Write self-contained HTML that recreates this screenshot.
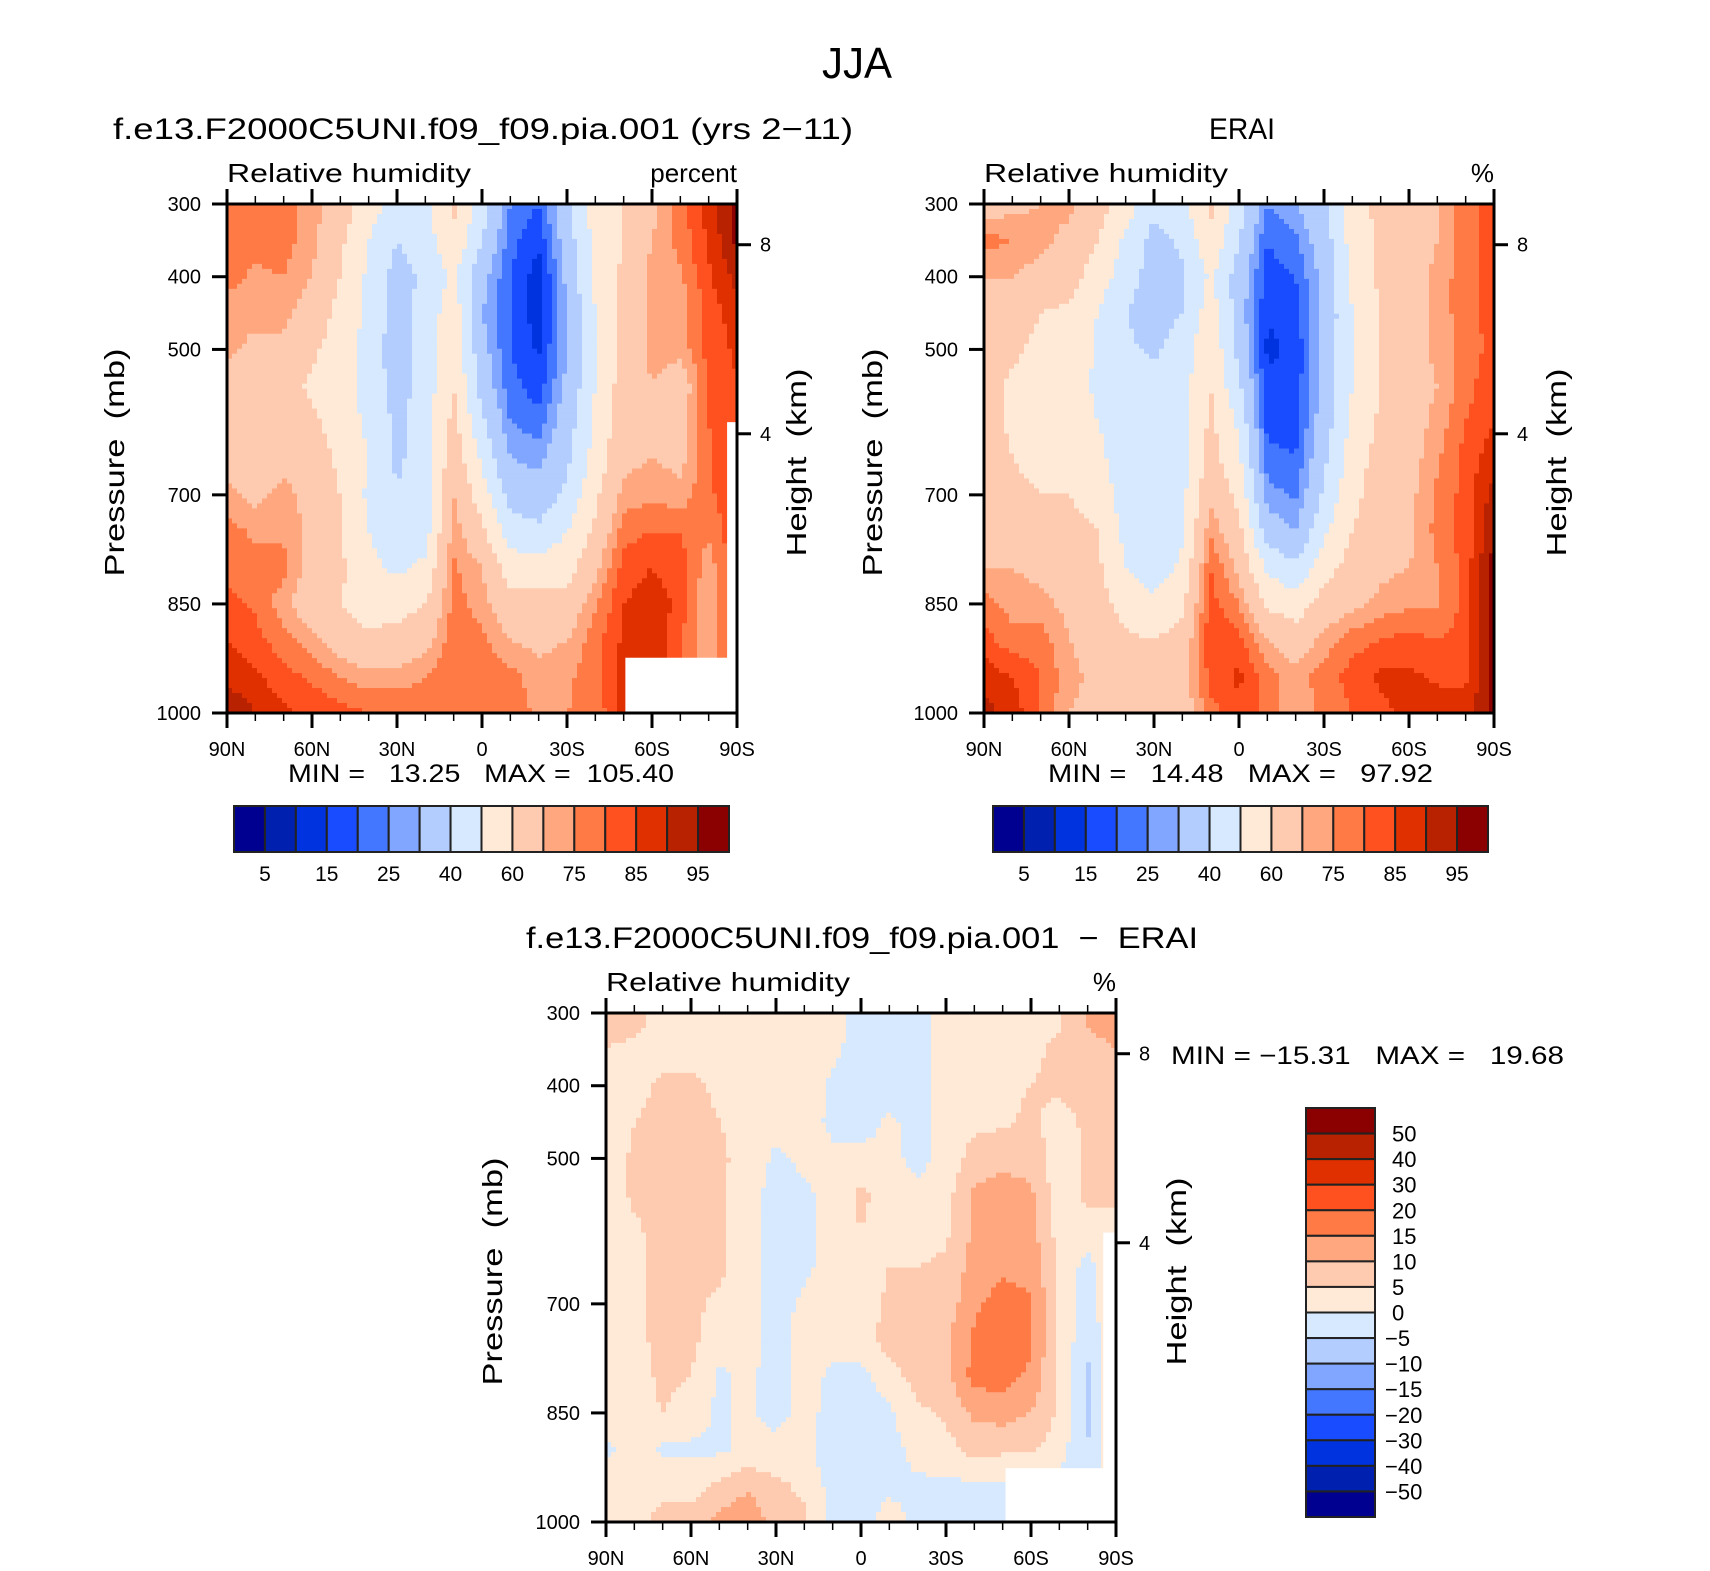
<!DOCTYPE html>
<html><head><meta charset="utf-8">
<style>
html,body{margin:0;padding:0;background:#fff;}
svg{display:block;font-family:"Liberation Sans",sans-serif;}
text{fill:#000;white-space:pre;}
</style></head>
<body>
<svg id="fig" width="1710" height="1571" viewBox="0 0 1710 1571" xmlns="http://www.w3.org/2000/svg">
<rect width="1710" height="1571" fill="#fff"/>
<text x="857" y="78" font-size="44" text-anchor="middle" textLength="70" lengthAdjust="spacingAndGlyphs">JJA</text>
<text x="113" y="139" font-size="30" textLength="740" lengthAdjust="spacingAndGlyphs">f.e13.F2000C5UNI.f09_f09.pia.001 (yrs 2−11)</text>
<text x="1242" y="139" font-size="30" text-anchor="middle" textLength="66" lengthAdjust="spacingAndGlyphs">ERAI</text>
<text x="862" y="948" font-size="30" text-anchor="middle" textLength="672" lengthAdjust="spacingAndGlyphs">f.e13.F2000C5UNI.f09_f09.pia.001  −  ERAI</text>
<g id="panels"></g>
</svg>
<script>
// ---------- data ----------
const latLabels = ["90N","60N","30N","0","30S","60S","90S"];
const pressures = [300,350,400,450,500,550,600,650,700,750,800,850,900,950,1000];
const pTicks = [300,400,500,700,850,1000];
const hTickLabels = ["8","4"];
const hTickPressures = [356,616];
const absLevels = [5,10,15,20,25,30,40,50,60,70,75,80,85,90,95];
const absLabels = ["5","15","25","40","60","75","85","95"];
const diffLevels = [-50,-40,-30,-20,-15,-10,-5,0,5,10,15,20,30,40,50];
const diffLabels = ["50","40","30","20","15","10","5","0","−5","−10","−15","−20","−30","−40","−50"];
const palette = ["#000090","#0020b0","#0033e0","#1a4cff","#4477ff","#80a6ff","#b3cdff","#d6e9ff","#ffead8","#ffcbb0","#ffa880","#ff7a45","#ff5020","#e03000","#b82200","#8b0000"];
// model RH, one array per latitude (90N -> 90S every 10 deg), values at pressures 300..1000
const rhModel = [
[77,77,77,72,72,65,65,65,72,77,77,82,85,88,95],
[77,77,74,72,68,65,65,65,68,74,77,79,82,86,90],
[77,77,75,72,68,65,65,68,72,74,77,72,77,82,86],
[73,72,70,66,62,58,62,65,67,68,66,64,72,79,84],
[65,62,60,57,55,53,55,58,60,60,62,60,65,75,82],
[55,50,48,47,47,47,48,50,48,50,52,55,62,72,80],
[45,40,36,35,34,35,38,38,41,45,48,56,64,72,80],
[48,45,42,44,45,45,45,45,45,46,52,60,67,75,80],
[62,58,52,56,58,60,63,66,70,73,76,77,78,80,78],
[45,40,33,30,33,36,42,48,55,62,70,73,76,80,78],
[25,22,20,20,20,22,25,30,36,45,55,63,70,77,78],
[20,16,12,12,14,17,22,28,34,42,55,63,68,72,74],
[38,35,32,30,30,32,35,38,42,50,56,64,70,74,75],
[55,53,52,50,50,50,52,54,58,62,68,74,78,78,76],
[60,60,62,62,63,65,66,68,72,78,82,85,86,88,88],
[68,70,72,72,72,70,68,70,74,80,85,88,90,90,90],
[77,77,74,72,72,65,66,68,72,80,82,84,80,80,80],
[87,86,84,82,82,80,80,79,79,76,72,70,70,70,70],
[98,96,92,88,86,85,85,84,84,84,84,84,84,84,84]
];
const rhERAI = [
[65,77,70,65,65,65,65,65,65,65,70,77,82,88,92],
[68,75,70,65,62,58,58,60,63,65,70,73,77,85,88],
[70,72,67,60,57,55,55,56,60,64,68,72,78,80,80],
[72,68,64,58,55,53,53,55,60,64,66,68,70,72,70],
[65,60,55,50,49,49,50,52,55,60,62,64,67,68,68],
[55,48,45,40,42,45,46,46,46,47,50,56,62,65,65],
[42,37,35,35,38,45,45,45,45,45,45,52,60,65,64],
[48,42,38,40,45,46,46,47,47,48,52,58,64,66,65],
[62,58,52,55,58,60,62,64,68,74,80,82,84,82,78],
[45,40,35,35,37,42,48,52,57,63,68,75,82,86,84],
[25,20,18,15,14,16,18,22,27,35,48,58,70,77,78],
[30,24,20,18,16,17,18,20,24,30,42,55,65,72,72],
[38,35,33,32,33,33,35,38,42,48,56,64,72,78,76],
[57,54,52,50,50,50,52,55,57,60,64,68,78,82,80],
[62,62,62,60,60,60,62,64,66,66,68,72,80,86,84],
[64,64,65,65,65,66,66,67,68,68,70,74,82,86,86],
[70,70,72,72,72,70,72,74,76,77,75,74,80,84,88],
[78,78,78,78,77,78,80,82,82,82,82,82,82,84,88],
[82,82,82,82,82,84,85,88,92,95,97,97,97,97,97]
];
const rhDiff = [
[7,5,2,2,2,2,3,3,2,2,2,2,-1,2,2],
[7,4,3,5,6,6,4,3,3,3,3,3,2,3,4],
[3,3,6,7,7,7,7,7,7,7,6,5,-1,4,6],
[2,3,6,7,7,7,7,7,6,6,5,3,-1,3,7],
[2,3,4,5,6,6,6,6,4,3,-1,-1,-1,6,12],
[2,2,2,3,3,2,2,2,2,2,1,1,1,9,14],
[2,2,2,2,-1,-2,-2,-2,-2,-2,-2,-2,2,6,8],
[2,2,3,2,1,-1,-2,-1,1,2,2,2,2,4,6],
[2,1,-1,-1,1,2,2,2,2,2,-1,-2,-4,-2,-2],
[-2,-2,-4,-3,2,6,5,3,2,3,-2,-2,-2,-2,-2],
[-2,-2,-3,1,2,3,3,5,6,7,3,-1,-2,-1,2],
[-2,-2,-2,-2,-2,2,3,5,6,7,7,4,2,-1,-1],
[2,2,2,2,2,3,4,6,7,9,8,6,3,-1,-1],
[2,2,3,4,7,11,11,12,14,16,17,11,7,-1,-1],
[3,3,4,4,9,12,13,14,17,18,17,12,6,-1,-1],
[3,4,5,6,8,11,12,13,16,16,14,10,6,-1,-1],
[4,6,6,3,2,2,3,4,4,4,3,4,2,-1,-1],
[11,8,7,6,6,6,3,-2,-2,-4,-6,-6,-5,-5,-5],
[14,10,8,6,5,5,5,5,5,5,5,5,5,5,5]
];
const statsModel = ["13.25","105.40"];
const statsERAI = ["14.48","97.92"];
const statsDiff = ["−15.31","19.68"];

// ---------- drawing ----------
const NS="http://www.w3.org/2000/svg";
const root=document.getElementById('panels');
function el(tag,attrs,parent){const e=document.createElementNS(NS,tag);for(const k in attrs)e.setAttribute(k,attrs[k]);(parent||root).appendChild(e);return e;}
function txt(s,attrs,parent){const e=el('text',attrs,parent);e.textContent=s;return e;}
function binOf(v,levels){let b=0;for(const l of levels){if(v>=l)b++;}return b;}

function drawPanel(P){
  const g=el('g',{});
  
  
  const x0=P.x,y0=P.y,w=P.w,h=P.h;
  const nLat=P.data.length-1;
  const xS=d=>x0+w*d/180;
  const yS=p=>y0+h*(p-300)/700;
  const field=el('g',{},g);
  
  
  const nx=102,ny=102,cw=w/nx,ch=h/ny;
  for(let i=0;i<nx;i++){
    const u=(i+0.5)/nx*nLat;const i0=Math.min(Math.floor(u),nLat-1);const fu=u-i0;
    for(let j=0;j<ny;j++){
      const p=300+700*(j+0.5)/ny;
      let k0=0;while(k0<pressures.length-2&&pressures[k0+1]<=p)k0++;
      const fv=(p-pressures[k0])/(pressures[k0+1]-pressures[k0]);
      const d=P.data;
      const v=(1-fu)*((1-fv)*d[i0][k0]+fv*d[i0][k0+1])+fu*((1-fv)*d[i0+1][k0]+fv*d[i0+1][k0+1]);
      const r=el('rect',{x:(x0+i*cw).toFixed(2),y:(y0+j*ch).toFixed(2),width:(cw+0.6).toFixed(2),height:(ch+0.6).toFixed(2),fill:palette[binOf(v,P.levels)]},field);
      
      
    }
  }
  for(const m of P.masks){
    const r=el('rect',{x:xS(m[0]),y:yS(m[2]),width:xS(m[1])-xS(m[0])+1,height:yS(m[3])-yS(m[2])+1,fill:'#fff'},g);
    
    
  }
  const fr=el('rect',{x:x0,y:y0,width:w,height:h,fill:'none',stroke:'#000','stroke-width':3},g);
  
  
  for(let d=0;d<=180;d+=10){
    const major=d%30===0;const x=xS(d);
    el('line',{x1:x,x2:x,y1:y0,y2:y0-(major?15:8),stroke:'#000','stroke-width':major?3:1.5},g);
    el('line',{x1:x,x2:x,y1:y0+h,y2:y0+h+(major?15:8),stroke:'#000','stroke-width':major?3:1.5},g);
  }
  latLabels.forEach((s,i)=>{
    const t=txt(s,{x:xS(i*30),y:y0+h+43,'font-size':20,'text-anchor':'middle'},g);
    
    
  });
  pTicks.forEach(p=>{
    el('line',{x1:x0-15,x2:x0,y1:yS(p),y2:yS(p),stroke:'#000','stroke-width':3},g);
    const t=txt(String(p),{x:x0-26,y:yS(p)+7,'font-size':20,'text-anchor':'end'},g);
    
    
  });
  hTickPressures.forEach((p,i)=>{
    el('line',{x1:x0+w,x2:x0+w+14,y1:yS(p),y2:yS(p),stroke:'#000','stroke-width':3},g);
    const t=txt(hTickLabels[i],{x:x0+w+23,y:yS(p)+7,'font-size':20},g);
    
    
  });
  const lt=txt('Relative humidity',{x:x0,y:y0-22,'font-size':26,textLength:244,lengthAdjust:'spacingAndGlyphs'},g);
  
  
  const rt=txt(P.units,{x:x0+w,y:y0-22,'font-size':26,'text-anchor':'end'},g);
  
  
  const cy=y0+h/2+4;
  const pt=txt('Pressure  (mb)',{x:P.px,y:cy,'font-size':28,'text-anchor':'middle',transform:`rotate(-90 ${P.px} ${cy})`,textLength:228,lengthAdjust:'spacingAndGlyphs'},g);
  
  
  const ht=txt('Height  (km)',{x:P.hx,y:cy,'font-size':28,'text-anchor':'middle',transform:`rotate(-90 ${P.hx} ${cy})`,textLength:188,lengthAdjust:'spacingAndGlyphs'},g);
  
  
  return g;
}

function hColorbar(x0,y0,w,h,labels,name){
  const g=el('g',{});
  
  
  const n=palette.length,bw=w/n;
  palette.forEach((c,i)=>{
    const r=el('rect',{x:x0+i*bw,y:y0,width:bw,height:h,fill:c,stroke:'#222','stroke-width':2},g);
    
    
  });
  labels.forEach((s,i)=>{
    const t=txt(s,{x:x0+(2*i+1)*bw,y:y0+h+29,'font-size':21,'text-anchor':'middle'},g);
    
    
  });
}
function vColorbar(x0,y0,w,h,labels,name){
  const g=el('g',{});
  
  
  const n=palette.length,bh=h/n;
  palette.slice().reverse().forEach((c,i)=>{
    const r=el('rect',{x:x0,y:y0+i*bh,width:w,height:bh,fill:c,stroke:'#222','stroke-width':2},g);
    
    
  });
  labels.forEach((s,i)=>{
    const t=txt(s,{x:x0+w+(s.startsWith('−')?10:17),y:y0+(i+1)*bh+8,'font-size':22},g);
    
    
  });
}

drawPanel({name:'model-panel',data:rhModel,levels:absLevels,x:227,y:204,w:510,h:509,units:'percent',px:124,hx:806,
  masks:[[140.6,180,924,1000],[176.5,180,600,1000]]});
drawPanel({name:'erai-panel',data:rhERAI,levels:absLevels,x:984,y:204,w:510,h:509,units:'%',px:882,hx:1566,masks:[]});
drawPanel({name:'diff-panel',data:rhDiff,levels:diffLevels,x:606,y:1013,w:510,h:509,units:'%',px:502,hx:1186,
  masks:[[141,180,926,1000],[175.5,180,602,1000]]});

let t;
t=txt(`MIN =   ${statsModel[0]}   MAX =  ${statsModel[1]}`,{x:288,y:782,'font-size':25,textLength:386,lengthAdjust:'spacingAndGlyphs'});


t=txt(`MIN =   ${statsERAI[0]}   MAX =   ${statsERAI[1]}`,{x:1048,y:782,'font-size':25,textLength:385,lengthAdjust:'spacingAndGlyphs'});


t=txt(`MIN = ${statsDiff[0]}   MAX =   ${statsDiff[1]}`,{x:1171,y:1064,'font-size':25,textLength:393,lengthAdjust:'spacingAndGlyphs'});



hColorbar(234,806,495,46,absLabels,'model-colorbar');
hColorbar(993,806,495,46,absLabels,'erai-colorbar');
vColorbar(1306,1108,69,409,diffLabels,'diff-colorbar');
</script>
</body></html>
